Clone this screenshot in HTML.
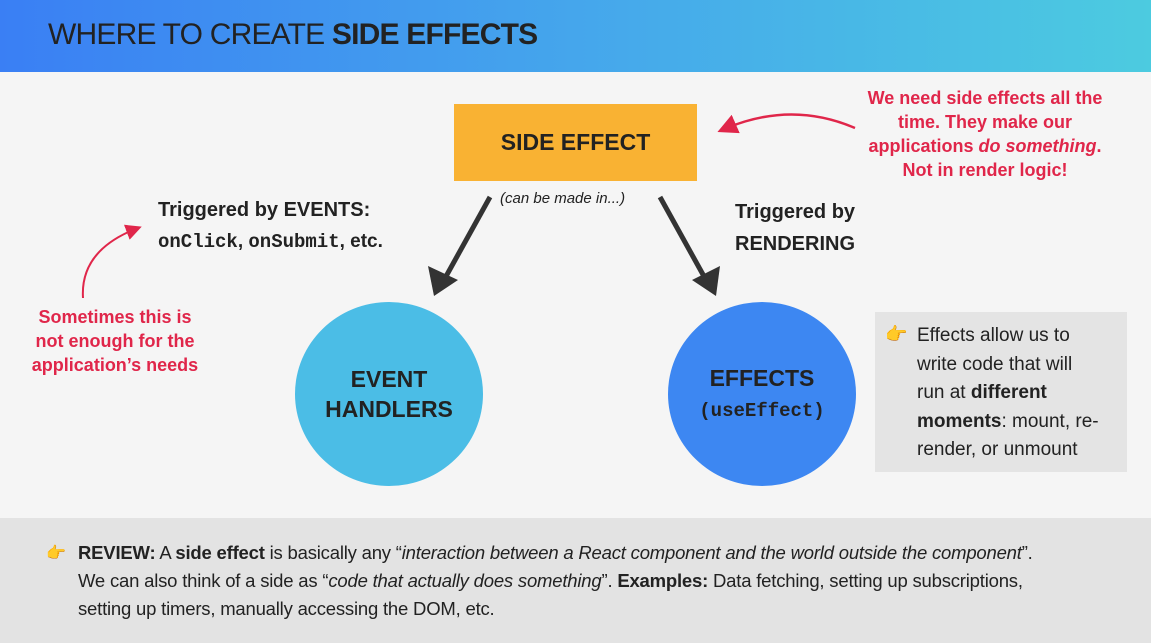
<!DOCTYPE html>
<html><head><meta charset="utf-8"><style>
*{margin:0;padding:0;box-sizing:border-box}
body{width:1151px;height:643px;position:relative;overflow:hidden;background:#f5f5f5;font-family:"Liberation Sans",sans-serif;color:#222}
.a{position:absolute}
.hdr{left:0;top:0;width:1151px;height:72px;background:linear-gradient(90deg,#3a7ff4,#45a6ec 50%,#4ccbe0)}
.red{color:#e0264a;font-weight:bold;font-size:18px;text-align:center;line-height:24px}
.b{font-weight:bold}
.mono{font-family:"Liberation Mono",monospace;font-weight:bold}
</style></head><body>
<div class="a hdr"></div>
<div class="a" style="left:48px;top:18px;font-size:30px;color:#222;letter-spacing:-0.8px">WHERE TO CREATE <b>SIDE EFFECTS</b></div>

<div class="a" style="left:454px;top:104px;width:243px;height:77px;background:#f9b233;display:flex;align-items:center;justify-content:center;font-weight:bold;font-size:23px">SIDE EFFECT</div>
<div class="a" style="left:500px;top:190px;font-size:15px;font-style:italic">(can be made in...)</div>

<div class="a red" style="left:850px;top:86px;width:270px">We need side effects all the<br>time. They make our<br>applications <i>do something</i>.<br>Not <span style="font-weight:bold">in render logic!</span></div>

<div class="a b" style="left:158px;top:199px;font-size:20px">Triggered by EVENTS:</div>
<div class="a" style="left:158px;top:231px;font-size:19px"><span class="mono">onClick</span><b>, </b><span class="mono">onSubmit</span><b>, etc.</b></div>
<div class="a b" style="left:735px;top:196px;font-size:20px;line-height:32px">Triggered by<br>RENDERING</div>

<div class="a red" style="left:20px;top:305px;width:190px">Sometimes this is<br>not enough for the<br>application’s needs</div>

<div class="a" style="left:295px;top:302px;width:188px;height:184px;border-radius:50%;background:#4bbde6;display:flex;align-items:center;justify-content:center;text-align:center;font-weight:bold;font-size:23px;line-height:30px">EVENT<br>HANDLERS</div>
<div class="a" style="left:668px;top:302px;width:188px;height:184px;border-radius:50%;background:#3d87f2;display:flex;align-items:center;justify-content:center;text-align:center;font-weight:bold;font-size:23px;line-height:30px"><div>EFFECTS<br><span class="mono" style="font-size:19px">(useEffect)</span></div></div>

<div class="a" style="left:875px;top:312px;width:252px;height:160px;background:#e4e4e4"></div>
<div class="a" style="left:885px;top:324px;font-size:18px">👉</div>
<div class="a" style="left:917px;top:322px;font-size:19px;line-height:28.5px;white-space:nowrap">Effects allow us to<br>write code that will<br>run at <b>different</b><br><b>moments</b>: mount, re-<br>render, or unmount</div>

<div class="a" style="left:0;top:518px;width:1151px;height:125px;background:#e3e3e3"></div>
<div class="a" style="left:46px;top:543px;font-size:16px">👉</div>
<div class="a" style="left:78px;top:539px;font-size:18.5px;line-height:28px;width:1060px;white-space:nowrap;letter-spacing:-0.2px"><b>REVIEW:</b> A <b>side effect</b> is basically any “<i>interaction between a React component and the world outside the component</i>”.<br>We can also think of a side as “<i>code that actually does something</i>”. <b>Examples:</b> Data fetching, setting up subscriptions,<br>setting up timers, manually accessing the DOM, etc.</div>

<svg class="a" style="left:0;top:0" width="1151" height="643">
<defs><marker id="r" markerWidth="8" markerHeight="8" refX="6" refY="4" orient="auto"><path d="M0,0L8,4L0,8z" fill="#e0264a"/></marker></defs>
<path d="M855,128 Q790,100 722,130" stroke="#e0264a" stroke-width="2.5" fill="none" marker-end="url(#r)"/>
<path d="M83,298 Q80,250 138,228" stroke="#e0264a" stroke-width="2" fill="none" marker-end="url(#r)"/>
<line x1="490" y1="197" x2="444" y2="280" stroke="#333" stroke-width="5"/>
<polygon points="434,296 428,266 458,280" fill="#333"/>
<line x1="660" y1="197" x2="706" y2="280" stroke="#333" stroke-width="5"/>
<polygon points="716,296 692,280 720,266" fill="#333"/>
</svg>
</body></html>
